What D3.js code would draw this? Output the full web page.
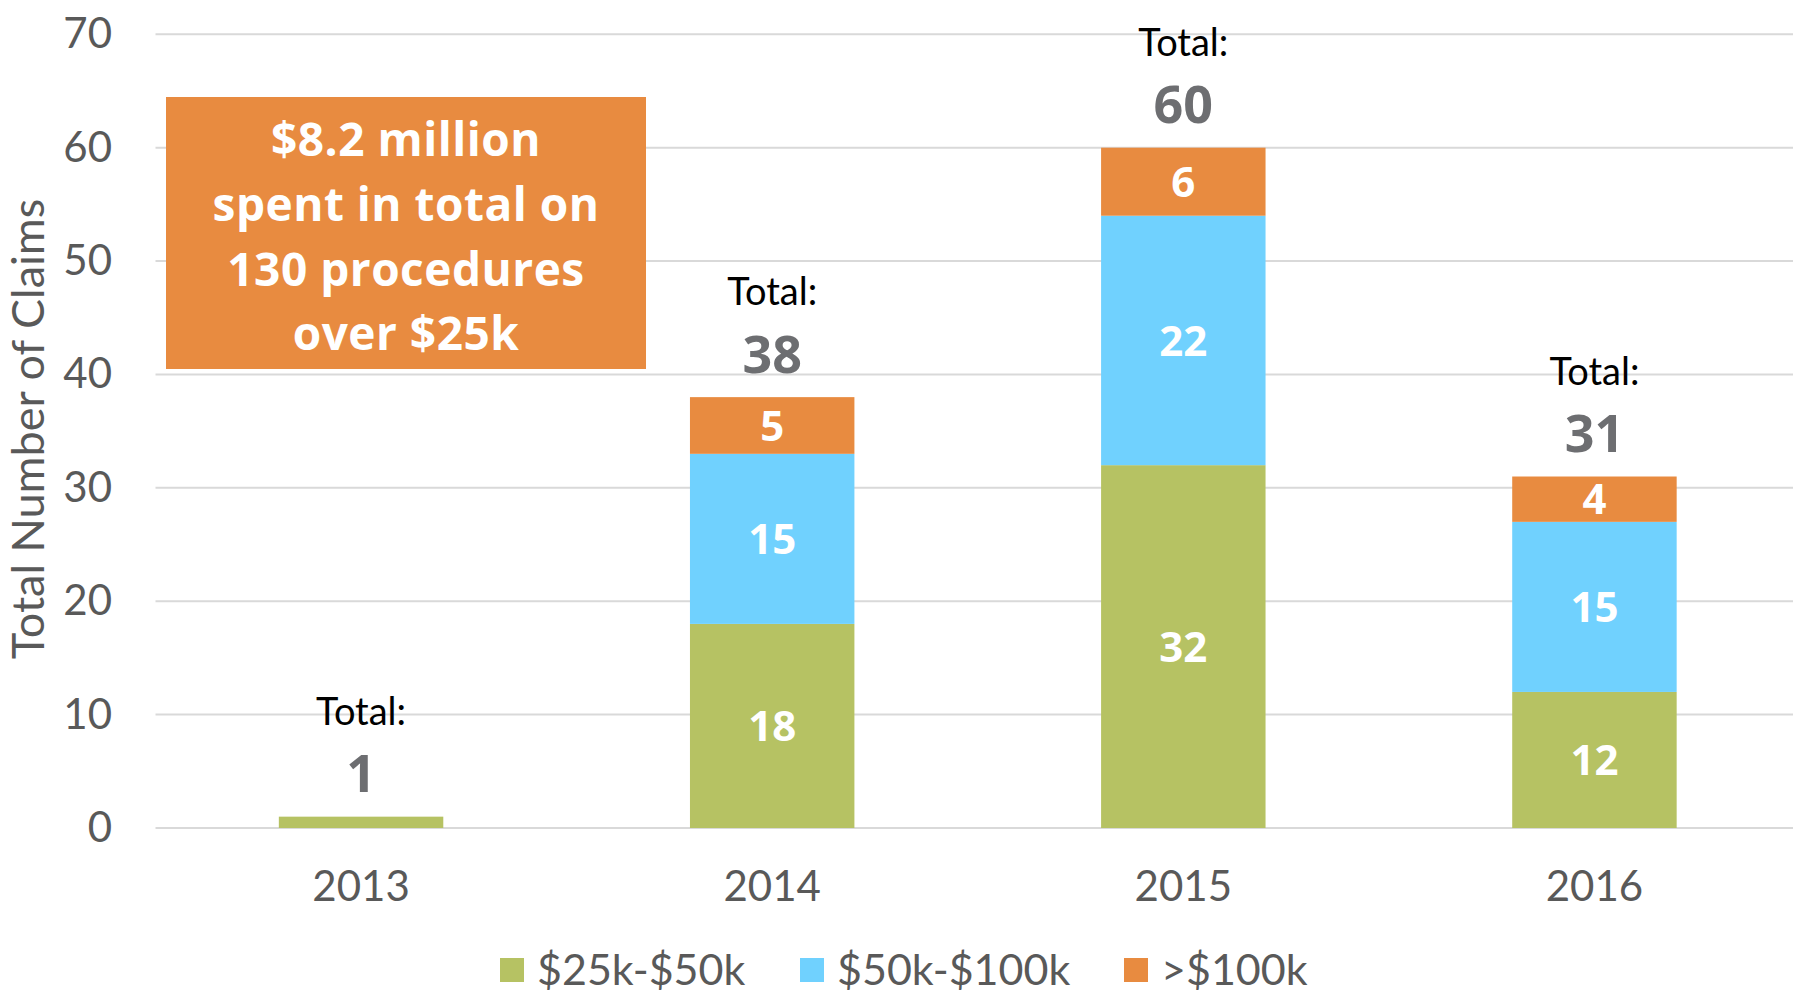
<!DOCTYPE html>
<html>
<head>
  <meta charset="utf-8">
  <title>Claims over $25k</title>
  <script src="https://d3js.org/d3.v7.min.js"></script>
  <style>
    body { margin: 0; background: #fff; }
    text { font-family: "Lato", "Open Sans", sans-serif; }
  </style>
</head>
<body>
<div id="chart"></div>
<script>
  // data
  var years = ["2013", "2014", "2015", "2016"];
  var low = [1, 18, 32, 12];     // $25k-$50k
  var mid = [0, 15, 22, 15];     // $50k-$100k
  var high = [0, 5, 6, 4];       // >$100k
  var seriesNames = ["$25k-$50k", "$50k-$100k", ">$100k"];
  var seriesColors = ["#B6C263", "#70D1FE", "#E88B40"];
  var yTicks = [0, 10, 20, 30, 40, 50, 60, 70];
  var noteLines = ["$8.2 million", "spent in total on", "130 procedures", "over $25k"];

  var width = 1793, height = 994;

  var svg = d3.select("#chart").append("svg")
    .attr("width", width)
    .attr("height", height);

  var rows = years.map(function(y, i) {
    return { year: y, s0: low[i], s1: mid[i], s2: high[i] };
  });
  var stack = d3.stack().keys(["s0", "s1", "s2"]);
  var layers = stack(rows);

  var x = d3.scaleBand()
    .domain(years)
    .range([155.5, 1800])
    .paddingInner(0.6)
    .paddingOuter(0.3);

  var y = d3.scaleLinear()
    .domain([0, 70])
    .range([828, 34.3]);

  // gridlines
  svg.append("g")
    .selectAll("line")
    .data(yTicks)
    .join("line")
      .attr("x1", 155.5)
      .attr("x2", width)
      .attr("y1", function(d) { return y(d); })
      .attr("y2", function(d) { return y(d); })
      .style("stroke", "#d9d9d9")
      .style("stroke-width", 2);

  // y axis labels
  var yAxis = d3.axisLeft(y).tickValues(yTicks).tickSize(0).tickPadding(0);
  var gy = svg.append("g").attr("transform", "translate(112,0)").call(yAxis);
  gy.select(".domain").remove();
  gy.selectAll("text")
    .style("font-family", "Lato, sans-serif")
    .style("font-size", "42px")
    .style("fill", "#595959");

  // x axis labels
  var xAxis = d3.axisBottom(x).tickSize(0).tickPadding(0);
  var gx = svg.append("g").attr("transform", "translate(0,871)").call(xAxis);
  gx.select(".domain").remove();
  gx.selectAll("text")
    .attr("dy", "0.71em")
    .style("font-family", "Lato, sans-serif")
    .style("font-size", "42px")
    .style("fill", "#595959");

  // y axis title
  svg.append("text")
    .attr("transform", "translate(28,429) rotate(-90)")
    .attr("text-anchor", "middle")
    .attr("dy", "0.35em")
    .style("font-size", "45px")
    .style("fill", "#595959")
    .text("Total Number of Claims");

  // stacked bars
  var layerG = svg.append("g")
    .selectAll("g")
    .data(layers)
    .join("g")
      .attr("fill", function(d, i) { return seriesColors[i]; });

  layerG.selectAll("rect")
    .data(function(d) { return d; })
    .join("rect")
      .attr("x", function(d) { return x(d.data.year); })
      .attr("width", x.bandwidth())
      .attr("y", function(d) { return y(d[1]); })
      .attr("height", function(d) { return y(d[0]) - y(d[1]); });

  // segment labels
  layerG.selectAll("text")
    .data(function(d) { return d.filter(function(s) { return s[1] - s[0] > 1; }); })
    .join("text")
      .attr("x", function(d) { return x(d.data.year) + x.bandwidth() / 2; })
      .attr("y", function(d) { return y((d[0] + d[1]) / 2); })
      .attr("dy", "0.36em")
      .attr("text-anchor", "middle")
      .style("font-family", "'Open Sans', sans-serif")
      .style("font-size", "42px")
      .style("font-weight", "bold")
      .style("fill", "#fff")
      .text(function(d) { return d[1] - d[0]; });

  // totals
  var totals = rows.map(function(r) { return { year: r.year, total: r.s0 + r.s1 + r.s2 }; });
  var tg = svg.append("g")
    .selectAll("g")
    .data(totals)
    .join("g")
      .attr("transform", function(d) {
        return "translate(" + (x(d.year) + x.bandwidth() / 2) + "," + y(d.total) + ")";
      });
  tg.append("text")
    .attr("y", -105)
    .attr("dy", "0.35em")
    .attr("text-anchor", "middle")
    .style("font-size", "38px")
    .style("fill", "#000")
    .text("Total:");
  tg.append("text")
    .attr("y", -43)
    .attr("dy", "0.36em")
    .attr("text-anchor", "middle")
    .style("font-family", "'Open Sans', sans-serif")
    .style("font-size", "52px")
    .style("font-weight", "bold")
    .style("fill", "#6d6e71")
    .text(function(d) { return d.total; });

  // annotation box
  var note = svg.append("g");
  note.append("rect")
    .attr("x", 166)
    .attr("y", 97)
    .attr("width", 480)
    .attr("height", 272)
    .attr("fill", "#E88B40");
  note.selectAll("text")
    .data(noteLines)
    .join("text")
      .attr("x", 406)
      .attr("y", function(d, i) { return 139.5 + i * 64.8; })
      .attr("dy", "0.36em")
      .attr("text-anchor", "middle")
      .style("font-family", "'Open Sans', sans-serif")
      .style("font-size", "46px")
      .style("font-weight", "bold")
      .style("letter-spacing", "0.5px")
      .style("fill", "#fff")
      .text(function(d) { return d; });

  // legend
  var legendX = [500, 800, 1124];
  var lg = svg.append("g")
    .selectAll("g")
    .data(seriesNames)
    .join("g")
      .attr("transform", function(d, i) { return "translate(" + legendX[i] + ",970)"; });
  lg.append("rect")
    .attr("x", 0)
    .attr("y", -12)
    .attr("width", 24)
    .attr("height", 24)
    .attr("fill", function(d, i) { return seriesColors[i]; });
  lg.append("text")
    .attr("x", 37)
    .attr("dy", "0.36em")
    .style("font-size", "43px")
    .style("fill", "#595959")
    .text(function(d) { return d; });
</script>
</body>
</html>
